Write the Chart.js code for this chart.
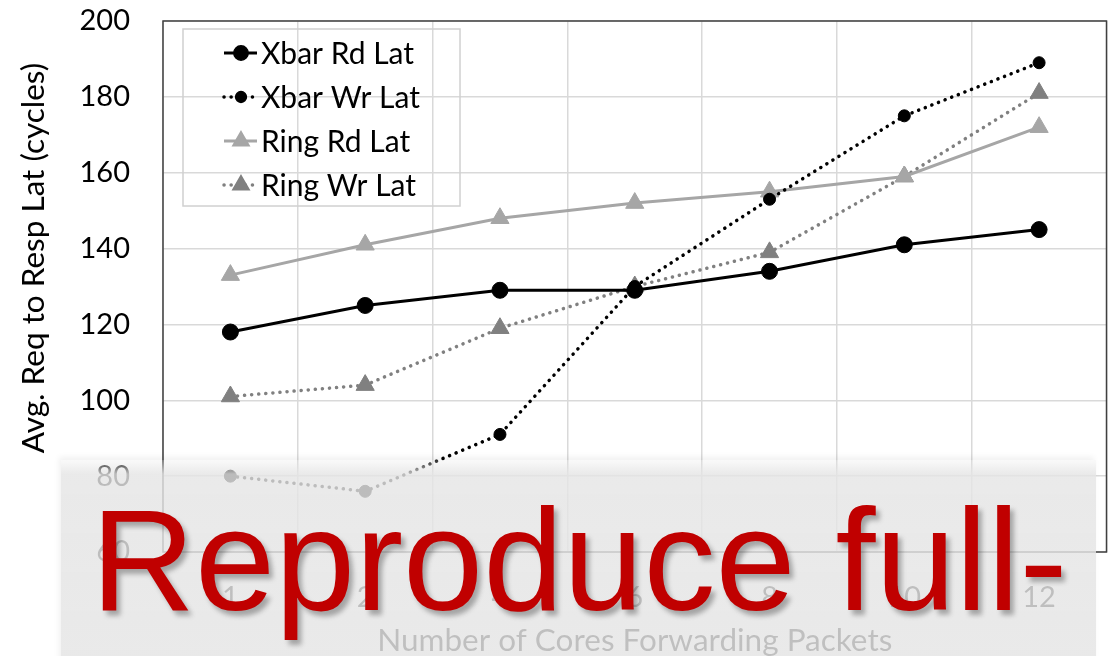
<!DOCTYPE html>
<html>
<head>
<meta charset="utf-8">
<script src="https://cdn.jsdelivr.net/npm/chart.js@4/dist/chart.umd.min.js"></script>
<style>
  html, body { margin: 0; padding: 0; background: #fff; }
  #wrap { position: relative; width: 1118px; height: 656px; overflow: hidden; }
  #chart { position: absolute; left: 0; top: 0; }
  #banner {
    position: absolute; left: 61px; top: 460px; width: 1035px; height: 210px;
    background: linear-gradient(to bottom, rgba(229,229,229,0.2) 0px, rgba(229,229,229,0.82) 14px, rgba(229,229,229,0.84) 100%);
    box-shadow: -2px -3px 6px rgba(0,0,0,0.06);
  }
  #banner-text {
    position: absolute; left: 91px; top: 489px; margin: 0;
    font-family: "Liberation Sans", Arial, sans-serif; font-size: 144px; line-height: 1;
    color: #c00000; white-space: nowrap;
    text-shadow: 4px 5px 5px rgba(0,0,0,0.3);
  }
</style>
</head>
<body>
<div id="wrap">
  <canvas id="chart" width="1118" height="656"></canvas>
  <div id="banner"></div>
  <div id="banner-text">Reproduce full-</div>
</div>
<script>
// Cores forwarding packets (x categories)
const cores = ['1', '2', '4', '6', '8', '10', '12'];

// Average request-to-response latency, in cycles
const xbarRdLat = [118, 125, 129, 129, 134, 141, 145];
const xbarWrLat = [80, 76, 91, 130, 153, 175, 189];
const ringRdLat = [133, 141, 148, 152, 155, 159, 172];
const ringWrLat = [101, 104, 119, 130, 139, 159, 181];

// Y axis range
const yMin = 60, yMax = 200, yStep = 20;

const yTitle = 'Avg. Req to Resp Lat (cycles)';
const xTitle = 'Number of Cores Forwarding Packets';

const FONT = 'Lato, "Open Sans", sans-serif';
const DOT = [0.1, 7];

const series = [
  { label: 'Xbar Rd Lat', data: xbarRdLat, color: '#000000', dash: [], style: 'circle', r: 8, w: 3 },
  { label: 'Xbar Wr Lat', data: xbarWrLat, color: '#000000', dash: DOT, style: 'circle', r: 6, w: 3.5 },
  { label: 'Ring Rd Lat', data: ringRdLat, color: '#a6a6a6', dash: [], style: 'triangle', r: 10.5, w: 3 },
  { label: 'Ring Wr Lat', data: ringWrLat, color: '#808080', dash: DOT, style: 'triangle', r: 10.5, w: 3.5 }
];

// Frame around the plot area
const plotFrame = {
  id: 'plotFrame',
  afterDatasetsDraw(chart) {
    const { ctx, chartArea: a } = chart;
    ctx.save();
    ctx.strokeStyle = '#404040';
    ctx.lineWidth = 1.5;
    ctx.strokeRect(a.left, a.top, a.right - a.left, a.bottom - a.top);
    ctx.restore();
  }
};

// Vertical value-axis title, placed a little above the plot's middle
const yAxisTitle = {
  id: 'yAxisTitle',
  afterDraw(chart) {
    const { ctx } = chart;
    ctx.save();
    ctx.translate(34, 258);
    ctx.rotate(-Math.PI / 2);
    ctx.fillStyle = '#000';
    ctx.font = '31.5px ' + FONT;
    ctx.textAlign = 'center';
    ctx.textBaseline = 'middle';
    ctx.fillText(yTitle, 0, 0);
    ctx.restore();
  }
};

// Boxed legend in the upper-left corner of the plot
const boxLegend = {
  id: 'boxLegend',
  afterDraw(chart) {
    const { ctx } = chart;
    const bx = 183, by = 29, bw = 277, bh = 177;
    ctx.save();
    ctx.strokeStyle = '#d0d0d0';
    ctx.lineWidth = 1.5;
    ctx.strokeRect(bx, by, bw, bh);
    series.forEach((s, i) => {
      const cy = 53 + i * 44;
      ctx.save();
      ctx.strokeStyle = s.color;
      ctx.lineWidth = s.w;
      ctx.lineCap = s.dash.length ? 'round' : 'butt';
      ctx.setLineDash(s.dash);
      ctx.beginPath();
      ctx.moveTo(224, cy);
      ctx.lineTo(257, cy);
      ctx.stroke();
      ctx.restore();
      ctx.fillStyle = s.color;
      ctx.strokeStyle = s.color;
      Chart.helpers.drawPoint(ctx, { pointStyle: s.style, radius: s.r * 0.9, borderWidth: 1 }, 241, cy);
      ctx.fillStyle = '#000';
      ctx.font = '30px ' + FONT;
      ctx.textBaseline = 'middle';
      ctx.textAlign = 'left';
      ctx.fillText(s.label, 261, cy + 1);
    });
    ctx.restore();
  }
};

new Chart(document.getElementById('chart'), {
  type: 'line',
  data: {
    labels: cores,
    datasets: series.map(s => ({
      label: s.label,
      data: s.data,
      borderColor: s.color,
      backgroundColor: s.color,
      borderWidth: s.w,
      borderDash: s.dash,
      borderCapStyle: s.dash.length ? 'round' : 'butt',
      pointStyle: s.style,
      pointRadius: s.r,
      pointBackgroundColor: s.color,
      pointBorderColor: s.color,
      pointBorderWidth: 1,
      tension: 0,
      fill: false
    }))
  },
  options: {
    responsive: false,
    animation: false,
    layout: { padding: { top: 21, right: 2, bottom: 0, left: 0 } },
    plugins: { legend: { display: false }, tooltip: { enabled: false } },
    scales: {
      x: {
        type: 'category',
        offset: true,
        grid: { offset: true, color: '#d9d9d9', lineWidth: 1.5, drawTicks: false },
        border: { display: false },
        ticks: { color: '#000', font: { family: FONT, size: 29 }, padding: 28 },
        title: { display: true, text: xTitle, color: '#000',
                 font: { family: FONT, size: 31.5 }, padding: { top: 0, bottom: -4 } },
        afterFit(scale) {
          scale.height = 104;
          scale.paddingLeft = 0; scale.paddingRight = 0;
        }
      },
      y: {
        min: yMin, max: yMax,
        ticks: { stepSize: yStep, color: '#000', font: { family: FONT, size: 29 }, padding: 33 },
        grid: { color: '#d9d9d9', lineWidth: 1.5, drawTicks: false },
        border: { display: false },
        title: { display: false },
        afterFit(scale) {
          scale.width = 163;
          scale.paddingTop = 0; scale.paddingBottom = 0;
        }
      }
    }
  },
  plugins: [plotFrame, boxLegend, yAxisTitle]
});
</script>
</body>
</html>
